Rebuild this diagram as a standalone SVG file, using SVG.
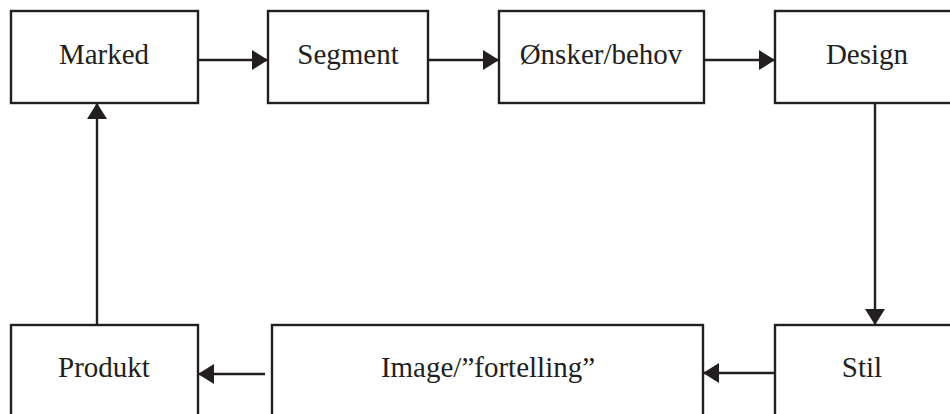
<svg xmlns="http://www.w3.org/2000/svg" width="950" height="414" viewBox="0 0 950 414">
<style>
.box{fill:#fff;stroke:#231f20;stroke-width:2.4}
.lbl{font-family:"Liberation Serif","Times New Roman",serif;font-size:29px;fill:#231f20;text-anchor:middle}
.con{stroke:#231f20;stroke-width:2.4;fill:none}
</style>
<defs>
<marker id="ah" markerUnits="userSpaceOnUse" markerWidth="18" markerHeight="20" refX="16" refY="10" orient="auto">
<path d="M0,0 L16,10 L0,20 Z" fill="#231f20"/>
</marker>
</defs>
<rect width="950" height="414" fill="#fff"/>
<g id="marked"><rect class="box" x="11" y="11" width="187" height="92"/><text class="lbl" x="104" y="64">Marked</text></g>
<g id="segment"><rect class="box" x="268" y="11" width="160" height="92"/><text class="lbl" x="348" y="64">Segment</text></g>
<g id="onsker"><rect class="box" x="499" y="11" width="205" height="92"/><text class="lbl" x="601" y="64">Ønsker/behov</text></g>
<g id="design"><rect class="box" x="775" y="11" width="200" height="92"/><text class="lbl" x="867" y="64">Design</text></g>
<g id="produkt"><rect class="box" x="11" y="325" width="187" height="100"/><text class="lbl" x="104" y="377">Produkt</text></g>
<g id="image"><rect class="box" x="272" y="325" width="431" height="100"/><text class="lbl" x="488" y="377">Image/”fortelling”</text></g>
<g id="stil"><rect class="box" x="775" y="325" width="200" height="100"/><text class="lbl" x="862" y="377">Stil</text></g>
<g id="connectors">
<line class="con" x1="198" y1="60" x2="268" y2="60" marker-end="url(#ah)"/>
<line class="con" x1="428" y1="60" x2="499" y2="60" marker-end="url(#ah)"/>
<line class="con" x1="704" y1="60" x2="775" y2="60" marker-end="url(#ah)"/>
<line class="con" x1="875" y1="103" x2="875" y2="325" marker-end="url(#ah)"/>
<line class="con" x1="775" y1="373" x2="703" y2="373" marker-end="url(#ah)"/>
<line class="con" x1="265" y1="374" x2="198" y2="374" marker-end="url(#ah)"/>
<line class="con" x1="97" y1="325" x2="97" y2="103" marker-end="url(#ah)"/>
</g>
</svg>
